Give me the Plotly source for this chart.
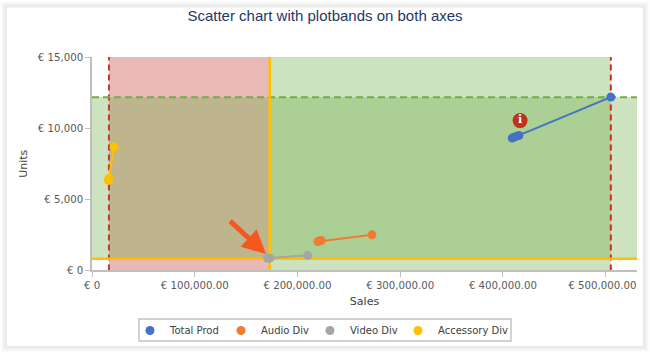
import plotly.graph_objects as go

W, H = 650, 353
L, R, T, B = 92.0, 637.0, 56.5, 270.3
PB = 345.0  # bottom of the paper area, in page pixels
XMAX, YMAX = 530500, 15000

series_names = ["Total Prod", "Audio Div", "Video Div", "Accessory Div"]
series_colors = ["#4472C4", "#ED7D31", "#A5A5A5", "#FFC000"]
legend_widths = [46, 44, 43, 75]
sales = [
    [505000, 415500, 412000, 409000],
    [272500, 223000, 221000, 220000],
    [173000, 171000, 210000],
    [21500, 16500, 16000],
]
units = [
    [12180, 9480, 9400, 9300],
    [2500, 2100, 2060, 2030],
    [860, 850, 1060],
    [8680, 6470, 6330],
]
x_ticks = [0, 100000, 200000, 300000, 400000, 500000]
x_labels = ["€ 0", "€ 100,000.00", "€ 200,000.00", "€ 300,000.00", "€ 400,000.00", "€ 500,000.00\u00a0\u00a0"]
y_ticks = [0, 5000, 10000, 15000]
y_labels = ["€ 0", "€ 5,000", "€ 10,000", "€ 15,000"]

x_low, x_mid, x_high = 16500, 173000, 505000
y_low, y_high = 820, 12170
arrow_tail, arrow_tip = (133000, 3560), (169500, 1150)
info_point = (416700, 10530)


def fx(p):
    return (p - L) / (R - L)


def fy(p):
    return (PB - p) / (PB - T)


def card(expand, color):
    return dict(type="rect", xref="paper", yref="paper", layer="below", line_width=0, fillcolor=color,
                x0=fx(7 - expand), x1=fx(643 + expand), y0=fy(346 + expand), y1=fy(7 - expand))


shapes = [card(e, c) for e, c in [(6, "#fbfbfb"), (5, "#f7f7f7"), (4, "#f3f3f3"), (3, "#eeeeee"),
                                  (2, "#ebebeb"), (1, "#e7e7e7"), (0, "#ffffff")]]
shapes += [
    dict(type="rect", xref="x", yref="y domain", layer="below", x0=x_low, x1=x_mid, y0=0, y1=1,
         fillcolor="rgba(192,57,43,0.35)", line_width=0),
    dict(type="rect", xref="x", yref="y domain", layer="below", x0=x_mid, x1=x_high, y0=0, y1=1,
         fillcolor="rgba(112,173,71,0.35)", line_width=0),
    dict(type="rect", xref="x domain", yref="y", layer="below", x0=0, x1=1, y0=y_low, y1=y_high,
         fillcolor="rgba(112,173,71,0.35)", line_width=0),
    dict(type="line", xref="x", yref="y domain", layer="below", x0=x_low, x1=x_low, y0=0, y1=1,
         line=dict(color="#C0392B", width=2, dash="6px,4px")),
    dict(type="line", xref="x", yref="y domain", layer="below", x0=x_high, x1=x_high, y0=0, y1=1,
         line=dict(color="#DD2222", width=2, dash="6px,4px")),
    dict(type="line", xref="x domain", yref="y", layer="below", x0=0, x1=1, y0=y_high, y1=y_high,
         line=dict(color="#70AD47", width=2, dash="7px,4px")),
    dict(type="line", xref="x", yref="y domain", layer="below", x0=x_mid, x1=x_mid, y0=0, y1=1,
         line=dict(color="#FFC000", width=2.5)),
    dict(type="line", xref="x domain", yref="y", layer="below", x0=0, x1=1, y0=y_low, y1=y_low,
         line=dict(color="#FFC000", width=2.5)),
    # legend frame
    dict(type="rect", xref="paper", yref="paper", layer="below", x0=fx(139), x1=fx(511), y0=fy(341), y1=fy(319),
         fillcolor="#ffffff", line=dict(color="#C4C4C4", width=1.5)),
]

fig = go.Figure()
for name, color, xs, ys, lw in zip(series_names, series_colors, sales, units, legend_widths):
    fig.add_trace(go.Scatter(x=xs, y=ys, mode="lines", line=dict(color=color, width=2),
                             showlegend=False, hoverinfo="skip"))
    fig.add_trace(go.Scatter(x=xs, y=ys, mode="markers", name=name, legendwidth=lw,
                             marker=dict(color=color, size=9)))

fig.add_trace(go.Scatter(x=[info_point[0]], y=[info_point[1]], mode="markers+text", text=["<b>i</b>"],
                         textposition="middle center", showlegend=False, hoverinfo="skip",
                         textfont=dict(family="DejaVu Serif", size=11, color="#ffffff"),
                         marker=dict(color="#C0321F", size=15)))

fig.add_annotation(x=arrow_tip[0], y=arrow_tip[1], ax=arrow_tail[0], ay=arrow_tail[1],
                   xref="x", yref="y", axref="x", ayref="y", text="", showarrow=True,
                   arrowhead=2, arrowsize=0.95, arrowwidth=5, arrowcolor="#F4581E")

tick_font = dict(family="DejaVu Sans", size=10.2, color="#595959")
title_font = dict(family="DejaVu Sans", size=11, color="#404040")
axis_common = dict(showgrid=False, zeroline=False, showline=True, linecolor="#BFBFBF", linewidth=1.5,
                   ticks="outside", ticklen=5, tickcolor="#BFBFBF", tickwidth=1, tickfont=tick_font,
                   automargin=False)

fig.update_layout(
    template="none",
    width=W, height=H, autosize=False,
    margin=dict(l=L, r=W - R, t=T, b=H - PB, pad=0),
    paper_bgcolor="#ffffff", plot_bgcolor="rgba(0,0,0,0)",
    title=dict(text="Scatter chart with plotbands on both axes", x=325 / W, xanchor="center",
               y=1 - 16 / H, yanchor="middle",
               font=dict(family="Liberation Sans", size=15, color="#1F3864")),
    xaxis=dict(range=[0, XMAX], tickmode="array", tickvals=x_ticks, ticktext=x_labels,
               title=dict(text="Sales", font=title_font, standoff=7), **axis_common),
    yaxis=dict(range=[0, YMAX], tickmode="array", tickvals=y_ticks, ticktext=y_labels,
               domain=[fy(B), 1],
               title=dict(text="Units", font=title_font, standoff=8), **axis_common),
    legend=dict(orientation="h", x=fx(130), xanchor="left", y=fy(316), yanchor="top",
                borderwidth=0, bgcolor="rgba(0,0,0,0)",
                font=dict(family="DejaVu Sans", size=10, color="#404040"),
                itemwidth=30, tracegroupgap=0),
    shapes=shapes,
    showlegend=True,
)
fig.write_html("out.html", config={"displayModeBar": False},
               post_script="document.body.style.margin='0';")
